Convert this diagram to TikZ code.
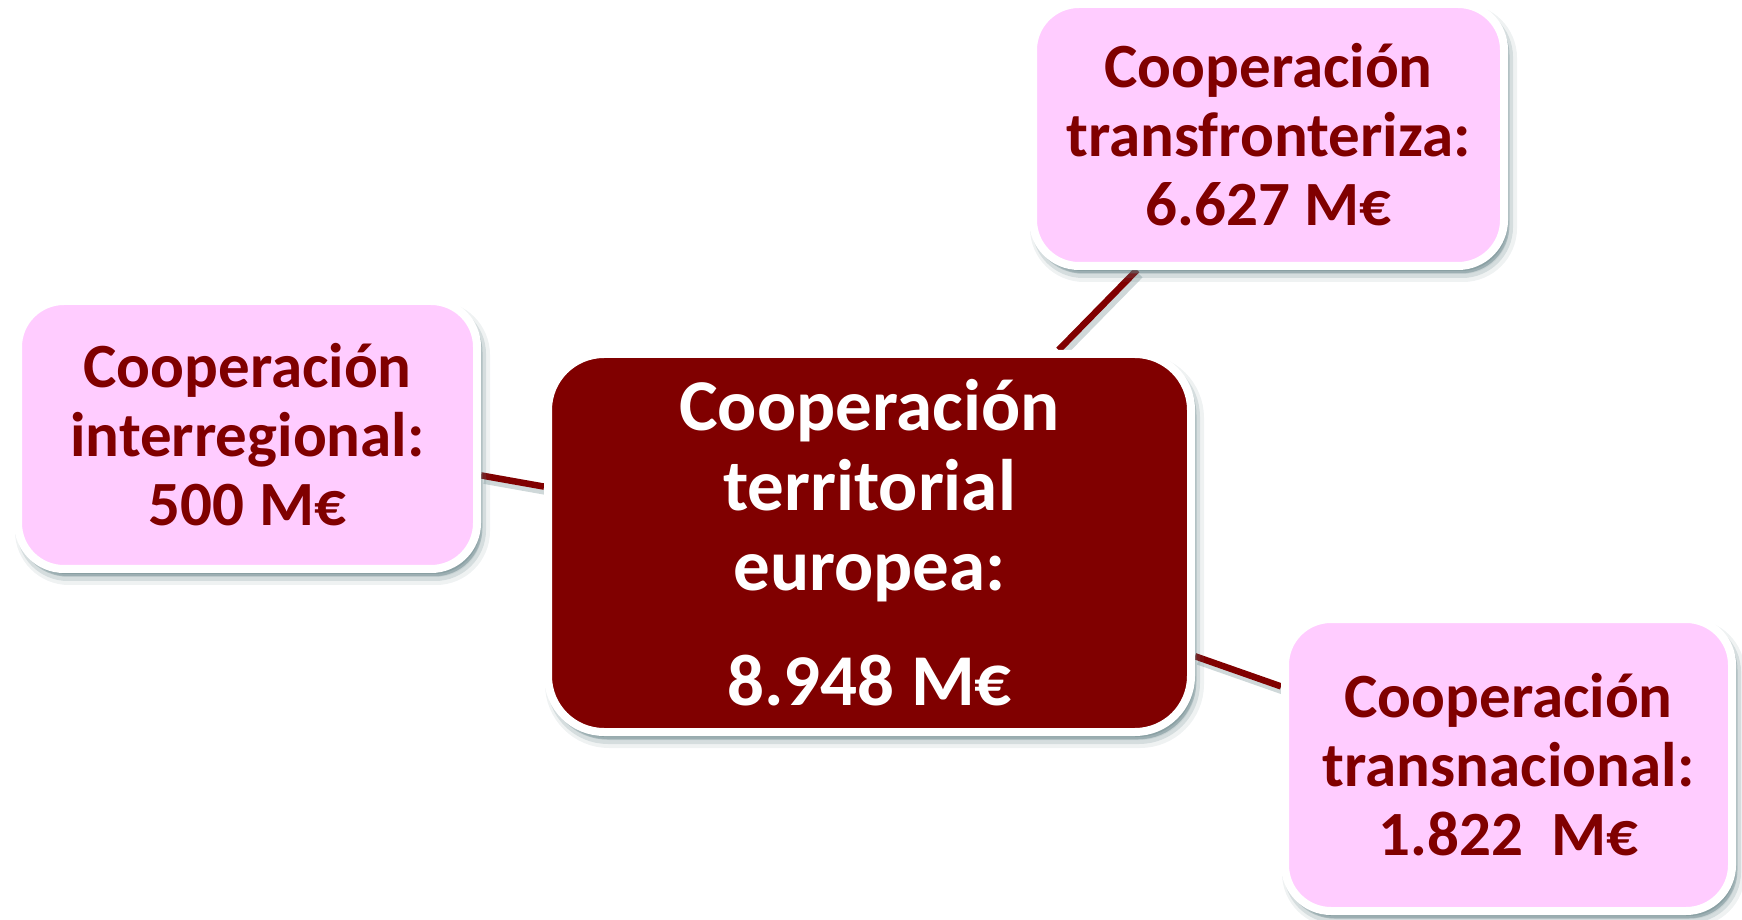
\documentclass[tikz,border=0pt]{standalone}
\usepackage{fontspec}
\setmainfont{Carlito}
\usetikzlibrary{shadows,backgrounds}
\definecolor{darkred}{RGB}{128,0,0}
\definecolor{pinkfill}{RGB}{255,204,255}
\definecolor{shadowc}{RGB}{95,125,130}
\tikzset{
  softshadow/.style={
    general shadow={shadow xshift=5pt, shadow yshift=-8pt, fill=shadowc, draw=shadowc, line width=16pt, opacity=.10},
    general shadow={shadow xshift=4pt, shadow yshift=-7pt, fill=shadowc, draw=shadowc, line width=10pt, opacity=.18},
    general shadow={shadow xshift=3pt, shadow yshift=-5pt, fill=shadowc, draw=shadowc, line width=5pt, opacity=.30}
  },
  box/.style={softshadow, draw=white, line width=8pt, rounded corners=46pt,
    inner sep=0pt, align=center},
  sidebox/.style={box, fill=pinkfill, text=darkred,
    font=\fontsize{63}{69}\selectfont\bfseries},
  mainbox/.style={box, fill=darkred, text=white, rounded corners=56pt,
    font=\fontsize{73}{80}\selectfont\bfseries},
  connector/.style={draw=darkred, line width=6.5pt,
    general shadow={shadow xshift=3pt, shadow yshift=-5pt, draw=shadowc, line width=7pt, opacity=.3}}
}
\begin{document}
\begin{tikzpicture}[x=1pt,y=1pt]
\useasboundingbox (0,0) rectangle (1742,919);
\node[mainbox, minimum width=643pt, minimum height=378pt] (center) at (869.5,376)
  {Cooperación\\territorial\\europea:\\[35pt]8.948 M€};
\node[sidebox, minimum width=459pt, minimum height=268pt] (inter) at (247.5,484)
  {Cooperación\\interregional:\\500 M€};
\node[sidebox, minimum width=471pt, minimum height=262pt] (transf) at (1268.5,784)
  {Cooperación\\transfronteriza:\\6.627 M€};
\node[sidebox, minimum width=447pt, minimum height=292pt] (transn) at (1508.5,154)
  {Cooperación\\transnacional:\\1.822\ \ M€};
\begin{pgfonlayer}{background}
\draw[connector] (center) -- (inter);
\draw[connector] (center) -- (transf);
\draw[connector] (center) -- (transn);
\end{pgfonlayer}
\end{tikzpicture}
\end{document}
